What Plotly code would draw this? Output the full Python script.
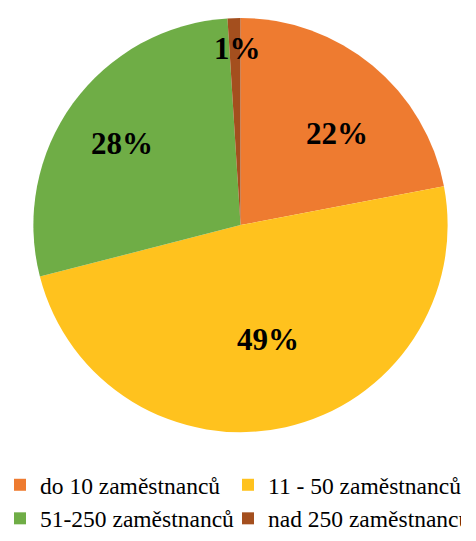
import math
import plotly.graph_objects as go

labels = ["do 10 zaměstnanců", "11 - 50 zaměstnanců", "51-250 zaměstnanců", "nad 250 zaměstnanců"]
values = [22, 49, 28, 1]
colors = ["#EE7B30", "#FFC21E", "#6FAD46", "#A44F1E"]
# label placement (styling): radius fraction and angular nudge in degrees
label_radius = [0.641, 0.568, 0.693, 0.851]
label_nudge = [6.9, -0.9, -1.5, 0.7]

W, H = 476, 541
cx, cy, R = 240.5, 225.5, 207.5
SERIF = "Liberation Serif, Times New Roman, Times, serif"

fig = go.Figure(go.Pie(
    labels=labels, values=values, sort=False, direction="clockwise", rotation=0,
    marker=dict(colors=colors, line=dict(width=0)),
    textinfo="none", hoverinfo="label+percent",
    domain=dict(x=[(cx - R) / W, (cx + R) / W], y=[(H - cy - R) / H, (H - cy + R) / H]),
))

total = sum(values)
cum = 0
annotations = []
for v, rf, nd in zip(values, label_radius, label_nudge):
    mid = math.radians((cum + v / 2) / total * 360 + nd)
    cum += v
    px = cx + rf * R * math.sin(mid)
    py = cy - rf * R * math.cos(mid)
    annotations.append(dict(
        x=px / W, y=1 - py / H, xref="paper", yref="paper", showarrow=False,
        text="<b>%d%%</b>" % round(v / total * 100),
        font=dict(family=SERIF, size=31, color="black"),
        xanchor="center", yanchor="middle",
    ))

fig.update_layout(
    width=W, height=H, margin=dict(l=0, r=0, t=0, b=0),
    paper_bgcolor="white", plot_bgcolor="white",
    annotations=annotations,
    legend=dict(
        orientation="h", x=0.0, y=0.142, xanchor="left", yanchor="top",
        font=dict(family=SERIF, size=23.5, color="black"),
        entrywidth=228 / W, entrywidthmode="fraction", itemwidth=30,
        traceorder="normal",
    ),
)

fig.write_html("out.html", config={"displayModeBar": False},
               post_script="document.body.style.margin='0px';")
